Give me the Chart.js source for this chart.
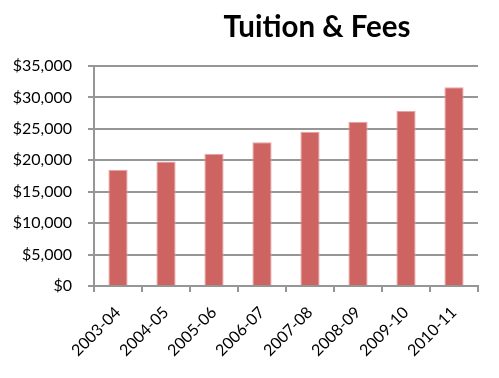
<!DOCTYPE html>
<html>
<head>
<meta charset="utf-8">
<script src="https://cdn.jsdelivr.net/npm/chart.js@4/dist/chart.umd.min.js"></script>
<style>
  html, body { margin: 0; padding: 0; background: #fff; }
  #wrap { position: relative; width: 499px; height: 378px; }
  #title { position: absolute; left: 0; top: 8px; width: 634px; text-align: center;
           font-family: Lato, sans-serif; font-weight: bold; font-size: 29.5px; color: #000; line-height: 36px; }
</style>
</head>
<body>
<div id="wrap">
  <canvas id="c" width="499" height="378"></canvas>
  <div id="title">Tuition &amp; Fees</div>
</div>
<script>
const categories = ['2003-04', '2004-05', '2005-06', '2006-07', '2007-08', '2008-09', '2009-10', '2010-11'];
const tuitionFees = [18500, 19800, 21050, 22850, 24550, 26150, 27900, 31600];
const yMax = 35000;
const yStep = 5000;

new Chart(document.getElementById('c'), {
  type: 'bar',
  data: {
    labels: categories,
    datasets: [{
      data: tuitionFees,
      backgroundColor: '#CD6462',
      borderColor: '#E8A4A2',
      borderWidth: 1,
      categoryPercentage: 1,
      barPercentage: 0.4
    }]
  },
  options: {
    responsive: false,
    animation: false,
    layout: { padding: { top: 66, right: 21, left: 0, bottom: 0 } },
    plugins: { legend: { display: false }, title: { display: false }, tooltip: { enabled: false } },
    scales: {
      x: {
        offset: true,
        afterFit: s => { s.height = 92; },
        grid: { offset: true, drawOnChartArea: false, drawTicks: true, tickLength: 6, color: '#969696', lineWidth: 2 },
        border: { color: '#969696', width: 2 },
        ticks: { color: '#000', font: { family: 'Lato', size: 16 }, minRotation: 45, maxRotation: 45, padding: 11, autoSkip: false }
      },
      y: {
        min: 0, max: yMax,
        afterFit: s => { s.width = 94; },
        grid: { color: '#969696', lineWidth: 2, tickLength: 6 },
        border: { color: '#969696', width: 2 },
        ticks: {
          stepSize: yStep, color: '#000', padding: 16,
          font: { family: 'Lato', size: 16 },
          callback: v => '$' + v.toLocaleString('en-US')
        }
      }
    }
  }
});
</script>
</body>
</html>
